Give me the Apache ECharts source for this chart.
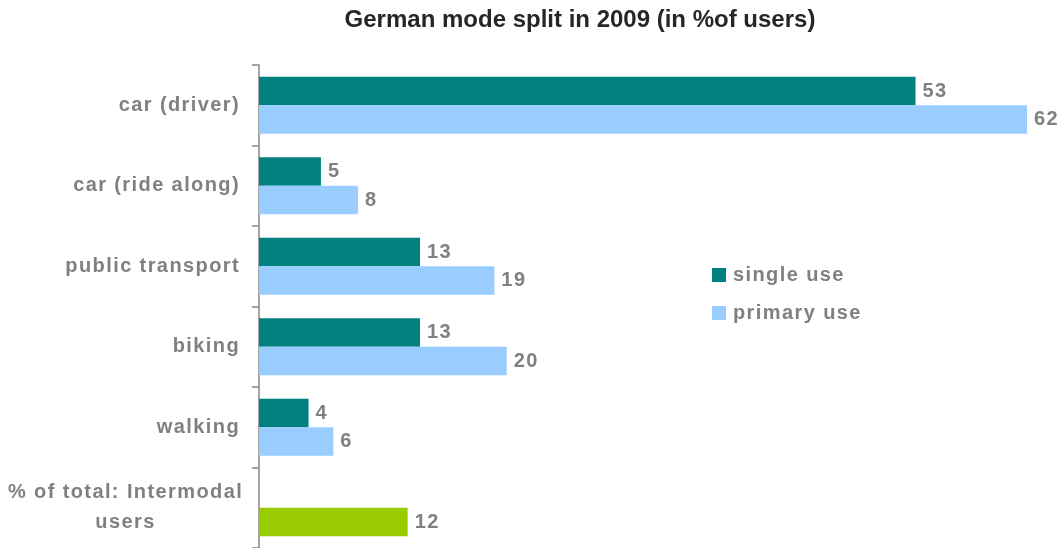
<!DOCTYPE html>
<html>
<head>
<meta charset="utf-8">
<script src="https://cdn.jsdelivr.net/npm/echarts@6/dist/echarts.min.js"></script>
<style>
  html, body { margin: 0; padding: 0; background: #fff; }
  #chart { width: 1063px; height: 548px; }
</style>
</head>
<body>
<div id="chart"></div>
<script>
// Mode categories, top to bottom
const categories = ['car (driver)', 'car (ride along)', 'public transport', 'biking', 'walking', '% of total: Intermodal\nusers'];
// Share of users per mode (%)
const singleUse = [53, 5, 13, 13, 4, '-'];
const primaryUse = [62, 8, 19, 20, 6];
const intermodalUsers = 12;

const TEAL = '#008080';
const SKY = '#99CCFF';
const LIME = '#99CC00';
const GREY = '#808080';
const FONT = '"Liberation Sans", Arial, sans-serif';
const TITLE_FONT = 'Arial, "Liberation Sans", sans-serif';
const BODY_SIZE = 20;

// Slightly tracked-out lettering for the grey body text (0.07em); title stays tight
(function () {
  const proto = CanvasRenderingContext2D.prototype;
  const origFill = proto.fillText;
  proto.fillText = function () {
    if ('letterSpacing' in this) {
      const f = this.font || '';
      const spaced = f.indexOf(BODY_SIZE + 'px') >= 0 && f.indexOf('"Liberation Sans", Arial') >= 0;
      this.letterSpacing = spaced ? (BODY_SIZE * 0.07).toFixed(2) + 'px' : '0px';
    }
    return origFill.apply(this, arguments);
  };
})();

const chart = echarts.init(document.getElementById('chart'), null, { renderer: 'canvas' });

const valueLabel = {
  show: true,
  position: 'right',
  distance: 7,
  color: GREY,
  fontFamily: FONT,
  fontWeight: 'bold',
  fontSize: BODY_SIZE
};

const labelText = { color: GREY, fontFamily: FONT, fontWeight: 'bold', fontSize: BODY_SIZE, lineHeight: 30 };

chart.setOption({
  animation: false,
  backgroundColor: '#ffffff',
  title: {
    text: 'German mode split in 2009 (in %of users)',
    left: 580,
    top: 8,
    padding: 0,
    textAlign: 'center',
    textStyle: { fontFamily: TITLE_FONT, fontWeight: 'bold', fontSize: 24, color: '#262626' }
  },
  legend: {
    orient: 'vertical',
    left: 712,
    top: 265,
    padding: 0,
    itemWidth: 14,
    itemHeight: 14,
    itemGap: 18,
    icon: 'rect',
    data: ['single use', 'primary use'],
    textStyle: { fontFamily: FONT, fontWeight: 'bold', fontSize: BODY_SIZE, color: GREY, lineHeight: 20, padding: [0, 0, 0, 2] }
  },
  grid: { left: 259, right: 36, top: 65, bottom: 0, containLabel: false },
  xAxis: {
    type: 'value',
    min: 0,
    max: 62,
    show: false,
    splitLine: { show: false }
  },
  yAxis: {
    type: 'category',
    inverse: true,
    data: categories,
    axisLine: { show: true, lineStyle: { color: '#868686', width: 1.5 } },
    axisTick: { show: true, length: 7, lineStyle: { color: '#868686', width: 1.5 } },
    axisLabel: {
      margin: 19,
      align: 'right',
      formatter: function (v) {
        if (v.indexOf('\n') < 0) return v;
        // two-line label, each line centred within the block
        return v.split('\n').map(function (s) { return '{c|' + s + '}'; }).join('\n');
      },
      rich: {
        c: Object.assign({ width: 229, align: 'center' }, labelText)
      },
      ...labelText
    }
  },
  series: [
    {
      name: 'single use',
      type: 'bar',
      data: singleUse,
      barWidth: 28.5,
      barGap: '0%',
      itemStyle: { color: TEAL },
      label: valueLabel
    },
    {
      name: 'primary use',
      type: 'bar',
      data: primaryUse.concat([{ value: intermodalUsers, itemStyle: { color: LIME } }]),
      barWidth: 28.5,
      barGap: '0%',
      itemStyle: { color: SKY },
      label: valueLabel
    }
  ]
});
</script>
</body>
</html>
